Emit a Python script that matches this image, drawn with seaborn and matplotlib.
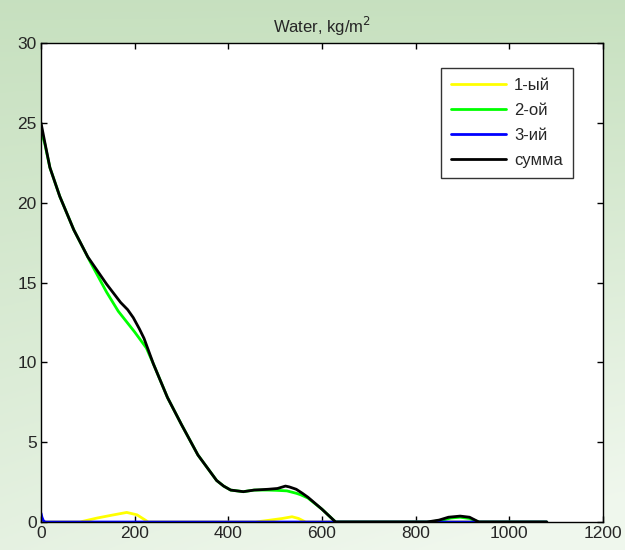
import numpy as np
import matplotlib
matplotlib.use("Agg")
import matplotlib.pyplot as plt
import seaborn as sns

# values
x_sum = [0, 4, 8, 19, 40, 70, 100, 140, 170, 185, 197, 210, 220, 240, 270, 300, 335, 360, 375,
         390, 405, 432, 455, 485, 505, 522, 530, 545, 558, 570, 600, 629, 824, 850, 870, 895,
         915, 935, 1080]
y_sum = [25.0, 24.4, 23.8, 22.2, 20.4, 18.3, 16.6, 14.9, 13.75, 13.3, 12.8, 12.1, 11.5, 9.9,
         7.8, 6.1, 4.2, 3.2, 2.6, 2.25, 2.0, 1.9, 2.0, 2.05, 2.1, 2.25, 2.2, 2.05, 1.8, 1.55,
         0.8, 0.0, 0.0, 0.12, 0.3, 0.37, 0.3, 0.0, 0.0]

x_green = [0, 4, 8, 19, 40, 70, 105, 140, 165, 200, 225, 240, 270, 300, 335, 360, 375, 390,
           405, 432, 455, 485, 505, 525, 545, 555, 570, 600, 629, 830, 855, 875, 895, 915,
           935, 1080]
y_green = [24.5, 24.1, 23.7, 22.2, 20.4, 18.3, 16.3, 14.4, 13.2, 11.9, 10.9, 9.9, 7.8, 6.1,
           4.2, 3.2, 2.6, 2.25, 2.0, 1.9, 2.0, 2.0, 1.98, 1.95, 1.8, 1.7, 1.5, 0.8, 0.0, 0.0,
           0.1, 0.25, 0.3, 0.22, 0.0, 0.0]

x_yellow = [0, 6, 83, 120, 150, 183, 205, 229, 458, 490, 515, 536, 550, 565, 1080]
y_yellow = [0.15, 0.0, 0.0, 0.25, 0.42, 0.6, 0.45, 0.0, 0.0, 0.12, 0.22, 0.33, 0.22, 0.0, 0.0]

x_blue = [0, 2, 5, 9, 1080]
y_blue = [0.55, 0.3, 0.08, 0.0, 0.0]

labels = ["1-ый", "2-ой", "3-ий", "сумма"]
xticks = [0, 200, 400, 600, 800, 1000, 1200]
yticks = [0, 5, 10, 15, 20, 25, 30]

sns.set_style("white")
plt.rcParams["font.family"] = ["Liberation Sans", "DejaVu Sans"]

fig = plt.figure(figsize=(6.25, 5.5), dpi=100)

# light green slide background
bg = fig.add_axes([0, 0, 1, 1], zorder=-10)
gy, gx = np.mgrid[0:1:200j, 0:1:200j]
t = np.clip(0.75 * gy + 0.35 * gx * gy, 0, 1)
top = np.array([0.78, 0.88, 0.75])
bottom = np.array([0.94, 0.97, 0.93])
img = top[None, None, :] * (1 - t[..., None]) + bottom[None, None, :] * t[..., None]
bg.imshow(img, aspect="auto", extent=[0, 1, 0, 1], origin="upper")
bg.axis("off")

ax = fig.add_axes([0.0656, 0.0509, 0.8992, 0.8709])
ax.set_facecolor("white")

sns.lineplot(x=x_yellow, y=y_yellow, color="#ffff00", linewidth=2, label=labels[0], ax=ax)
sns.lineplot(x=x_green, y=y_green, color="#00ff00", linewidth=2, label=labels[1], ax=ax)
sns.lineplot(x=x_blue, y=y_blue, color="#0000ff", linewidth=2, label=labels[2], ax=ax)
sns.lineplot(x=x_sum, y=y_sum, color="black", linewidth=2, label=labels[3], ax=ax)

ax.set_xlim(0, 1200)
ax.set_ylim(0, 30)
ax.set_xticks(xticks)
ax.set_yticks(yticks)
ax.set_xlabel("")
ax.set_ylabel("")
ax.tick_params(direction="in", length=4, width=1, color="black", labelsize=12.5,
               top=True, right=True, bottom=True, left=True, pad=3)
for s in ax.spines.values():
    s.set_visible(True)
    s.set_color("black")
    s.set_linewidth(1)

ax.set_title("Water, kg/m$^2$", fontsize=12, pad=7)

leg = ax.legend(loc="upper right", bbox_to_anchor=(0.9466, 0.948), fontsize=12,
                frameon=True, fancybox=False, handlelength=3.3, handletextpad=0.5,
                borderpad=0.6, labelspacing=0.6, borderaxespad=0)
leg.get_frame().set_edgecolor("black")
leg.get_frame().set_linewidth(1)

fig.savefig("out.png", dpi=100)
